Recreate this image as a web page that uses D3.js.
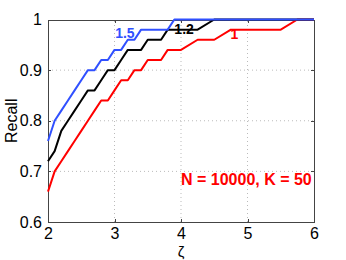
<!DOCTYPE html>
<html>
<head>
<meta charset="utf-8">
<script src="https://cdn.jsdelivr.net/npm/d3@7"></script>
<style>
	body { margin: 0; background: #fff; }
	svg { display: block; font-family: 'Liberation Sans', Arial, sans-serif; }
	.grid line { stroke: #bbb; stroke-dasharray: 1,3; }
	.tick-label { font-size: 16px; fill: #000; }
</style>
</head>
<body>
<div class="chart"></div>
<script>
// data
const zeta = [2.0, 2.1, 2.2, 2.3, 2.4, 2.5, 2.6, 2.7, 2.8, 2.9, 3.0, 3.1, 3.2, 3.3, 3.4, 3.5, 3.6, 3.7, 3.8, 3.9, 4.0, 4.25, 4.5, 4.75, 5.0, 5.25, 5.5, 5.75, 6.0];
const recall15 = [0.76, 0.80, 0.82, 0.84, 0.86, 0.88, 0.90, 0.90, 0.92, 0.92, 0.94, 0.94, 0.96, 0.96, 0.98, 0.98, 0.98, 0.98, 0.98, 1, 1, 1, 1, 1, 1, 1, 1, 1, 1];
const recall12 = [0.72, 0.74, 0.78, 0.80, 0.82, 0.84, 0.86, 0.86, 0.88, 0.90, 0.90, 0.92, 0.94, 0.94, 0.94, 0.96, 0.96, 0.96, 0.98, 0.98, 0.98, 0.98, 1, 1, 1, 1, 1, 1, 1];
const recall10 = [0.66, 0.70, 0.72, 0.74, 0.76, 0.78, 0.80, 0.82, 0.84, 0.84, 0.86, 0.88, 0.88, 0.90, 0.90, 0.92, 0.92, 0.92, 0.94, 0.94, 0.94, 0.96, 0.96, 0.98, 0.98, 0.98, 0.98, 1, 1];
const seriesNames = ['1', '1.2', '1.5'];
const seriesColors = ['#ff0000', '#000000', '#3050ff'];
// label anchors in data units [zeta, recall]
const seriesLabelPos = [[4.745, 0.961], [3.9, 0.972], [3.01, 0.963]];
const xTicks = [2, 3, 4, 5, 6];
const yTicks = [0.6, 0.7, 0.8, 0.9, 1];
const note = 'N = 10000, K = 50';
const notePos = [4.0, 0.673];

const series = [recall10, recall12, recall15].map((vals, i) => ({
	name: seriesNames[i],
	color: seriesColors[i],
	label: seriesLabelPos[i],
	values: vals.map((v, j) => ({ x: zeta[j], y: v }))
}));

// dimension stuff
const width = 346;
const height = 260;
const marginLeft = 48;
const marginRight = 32;
const marginTop = 19.5;
const marginBottom = 38;
const tickLen = 3;

// scales
const scaleX = d3.scaleLinear().domain([2, 6]).range([marginLeft, width - marginRight]);
const scaleY = d3.scaleLinear().domain([0.6, 1]).range([height - marginBottom, marginTop]);

const $svg = d3.select('.chart').append('svg')
	.attr('width', width)
	.attr('height', height);

// grid
const $grid = $svg.append('g').attr('class', 'grid');
$grid.selectAll('.gx')
	.data(xTicks.slice(1, -1))
	.join('line')
	.attr('x1', d => scaleX(d)).attr('x2', d => scaleX(d))
	.attr('y1', scaleY(0.6)).attr('y2', scaleY(1));
$grid.selectAll('.gy')
	.data(yTicks.slice(1, -1))
	.join('line')
	.attr('x1', scaleX(2)).attr('x2', scaleX(6))
	.attr('y1', d => scaleY(d)).attr('y2', d => scaleY(d));

// axes (box with inward ticks)
const $axisBottom = $svg.append('g')
	.attr('transform', `translate(0, ${scaleY(0.6)})`)
	.call(d3.axisBottom(scaleX).tickValues(xTicks).tickSizeInner(-tickLen).tickSizeOuter(0).tickPadding(6).tickFormat(d3.format('d')));
const $axisTop = $svg.append('g')
	.attr('transform', `translate(0, ${scaleY(1)})`)
	.call(d3.axisTop(scaleX).tickValues(xTicks).tickSizeInner(-tickLen).tickSizeOuter(0).tickFormat(''));
const $axisLeft = $svg.append('g')
	.attr('transform', `translate(${scaleX(2)}, 0)`)
	.call(d3.axisLeft(scaleY).tickValues(yTicks).tickSizeInner(-tickLen).tickSizeOuter(0).tickPadding(6).tickFormat(d => d === 1 ? '1' : d3.format('.1f')(d)));
const $axisRight = $svg.append('g')
	.attr('transform', `translate(${scaleX(6)}, 0)`)
	.call(d3.axisRight(scaleY).tickValues(yTicks).tickSizeInner(-tickLen).tickSizeOuter(0).tickFormat(''));

[$axisBottom, $axisTop, $axisLeft, $axisRight].forEach($a => {
	$a.selectAll('path, line').attr('stroke', '#444').attr('shape-rendering', 'crispEdges');
	$a.selectAll('text').attr('class', 'tick-label').attr('font-family', null).attr('font-size', null);
});

// lines
const line = d3.line().x(d => scaleX(d.x)).y(d => scaleY(d.y));
const $vis = $svg.append('g').attr('class', 'g-vis');
$vis.selectAll('path')
	.data(series)
	.join('path')
	.attr('d', d => line(d.values))
	.attr('fill', 'none')
	.attr('stroke', d => d.color)
	.attr('stroke-width', 2)
	.attr('stroke-linejoin', 'round');

// series labels
$vis.selectAll('.series-label')
	.data(series)
	.join('text')
	.attr('class', 'series-label')
	.attr('x', d => scaleX(d.label[0]))
	.attr('y', d => scaleY(d.label[1]))
	.attr('fill', d => d.color)
	.attr('font-size', 14)
	.attr('font-weight', 'bold')
	.text(d => d.name);

$svg.append('text')
	.attr('x', scaleX(notePos[0]))
	.attr('y', scaleY(notePos[1]))
	.attr('fill', '#ff0000')
	.attr('font-size', 16)
	.attr('font-weight', 'bold')
	.text(note);

// axis titles
$svg.append('text')
	.attr('transform', `translate(17, ${(scaleY(0.6) + scaleY(1)) / 2}) rotate(-90)`)
	.attr('text-anchor', 'middle')
	.attr('font-size', 16)
	.text('Recall');

$svg.append('text')
	.attr('x', (scaleX(2) + scaleX(6)) / 2)
	.attr('y', 257)
	.attr('text-anchor', 'middle')
	.attr('font-size', 15)
	.text('ζ');
</script>
</body>
</html>
